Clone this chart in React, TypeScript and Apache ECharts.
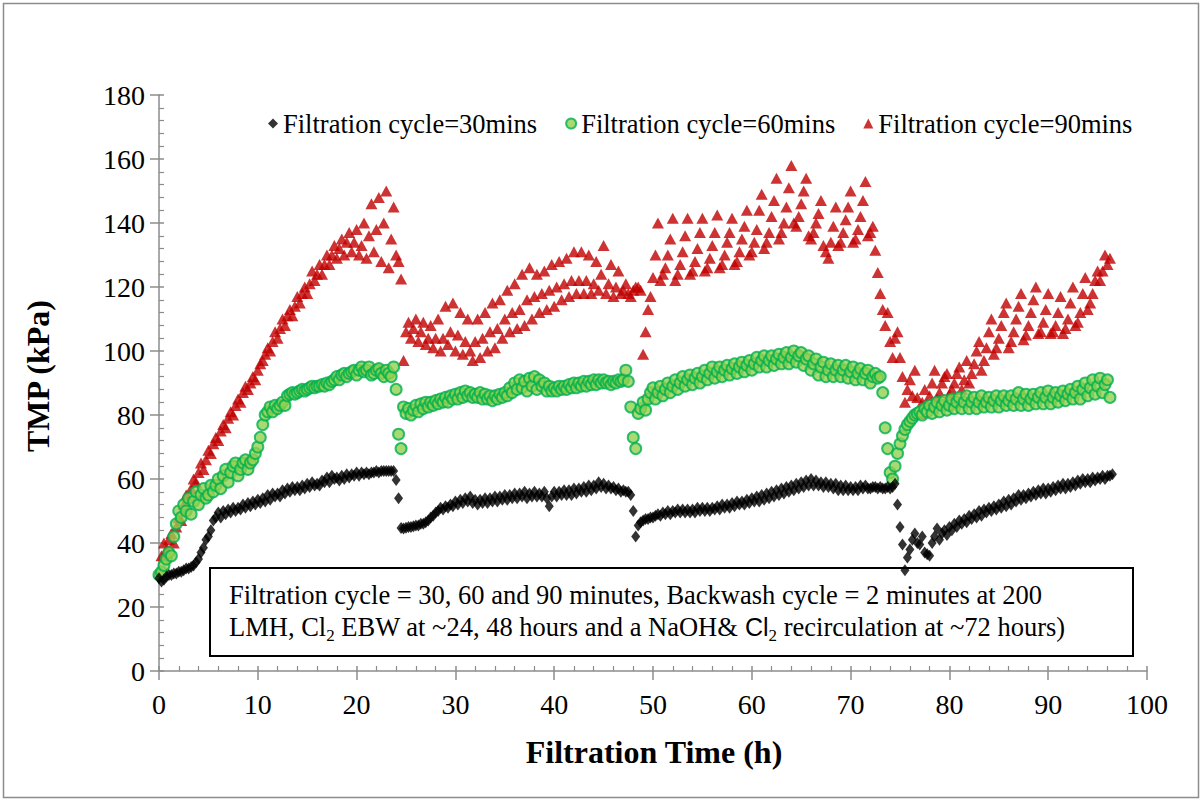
import React, { useEffect, useRef } from "react";
import * as echarts from "echarts";

// Sampling interval of the logged TMP data (hours)
const SAMPLE_STEP_H = 0.25;

const SERIES_NAMES = [
  "Filtration cycle=30mins",
  "Filtration cycle=60mins",
  "Filtration cycle=90mins",
];

// TMP (kPa), one value every 0.25 h starting at t = 0 (each row = 2 h)
const tmp30 = [
  29, 28, 28.5, 29.5, 30, 30, 30.5, 30.5,
  31, 31, 31.5, 32, 32, 32.5, 33, 34,
  35, 37, 38.5, 41, 42, 44, 47, 48,
  49.5, 48, 50, 49, 50.5, 49.5, 51, 50,
  51, 50.5, 52, 51, 52.5, 51.5, 53, 52,
  53.5, 52.5, 54, 53, 55, 53.5, 55.5, 54.5,
  55.5, 54.5, 56.5, 55.5, 57, 56, 57.5, 56.5,
  57.5, 56.5, 58, 57, 58.5, 57.5, 59, 58,
  58.5, 58, 59.5, 59, 60.5, 59, 61, 60,
  60.5, 59.5, 61, 60, 61.5, 60.5, 61.5, 61,
  62, 61, 62, 61.5, 62, 61.5, 62, 62,
  62.5, 62, 62.5, 62.5, 62.5, 62.5, 62.5, 62.5,
  59.7, 54, 44.7, 44.5, 44.8, 45, 45, 45.2,
  45.5, 45.5, 46, 46, 46.5, 47, 48, 48.5,
  49.5, 50, 51, 50.5, 51.5, 51, 52, 51.5,
  53, 52, 53.5, 52.5, 54, 53, 54.5, 52.5,
  53.5, 52, 53.5, 52.5, 54, 52.5, 54, 53,
  54.5, 53, 54.5, 53.5, 55, 53.5, 55, 54,
  55.5, 54, 55.5, 54.5, 56, 54, 55.5, 54.5,
  56, 54.5, 55.5, 54.5, 56, 54, 51.5, 54.5,
  56, 54.5, 56, 55, 56.5, 55, 56.5, 55,
  57, 55.5, 57, 56, 57.5, 56, 58, 56.5,
  58, 57, 59, 57.5, 58.5, 57, 58, 57,
  57.5, 56.5, 57, 56, 56.5, 56, 56, 55,
  50, 42, 45.5, 46.5, 47, 47.5, 47.5, 48,
  48, 48.5, 49, 48.5, 49.5, 49, 50, 49,
  50, 49.5, 50.5, 49.5, 50.5, 49.5, 50.5, 49.5,
  50.5, 49.5, 51, 50, 51, 50, 51, 50,
  51, 50.5, 51.5, 50.5, 52, 51, 52, 51,
  52.5, 51.5, 53, 52, 53, 52, 53.5, 52.5,
  54, 53, 54.5, 53, 55, 53.5, 55.5, 54,
  56, 54.5, 56.5, 55, 57, 55.5, 57.5, 56,
  58, 56.5, 58.5, 57, 59, 57.5, 59.5, 58,
  60, 58, 59.5, 58, 59, 57.5, 59, 57.5,
  58.5, 57, 58.5, 56.5, 58, 56.5, 58, 56.5,
  57.5, 56.5, 57.5, 56.5, 58, 57, 58, 57,
  57, 57.5, 57.5, 57, 57.5, 57, 57, 57.5,
  57, 57.5, 58.5, 52, 45, 39.5, 31.5, 35.5,
  38, 41, 43, 40, 39.5, 42, 37, 36.5,
  36, 40, 42, 44.5, 41, 43, 44, 42.5,
  45, 44, 46, 45, 47, 46, 47.5, 46.5,
  48.5, 47.5, 49, 48, 50, 48.5, 50.5, 49.5,
  51, 50, 51.5, 50.5, 52, 51, 53, 51.5,
  53.5, 52, 54, 53, 55, 53.5, 55, 54,
  55.5, 54.5, 56, 55, 56.5, 55.5, 57, 55.5,
  57, 56, 57.5, 56.5, 58, 57, 58.5, 57,
  58.5, 57.5, 59, 58, 59.5, 58.5, 60, 59,
  60, 59, 60.5, 59.5, 60.5, 60, 61, 60,
  61, 61, 61.5,
];

const tmp60 = [
  30, 31, 33, 35, 37, 36, 42, 46,
  50, 48, 52, 50, 54, 49, 53, 56,
  52, 55, 57, 54, 55, 58, 56, 58,
  60, 57, 61, 63, 59, 62, 64, 65,
  61, 63, 65, 66, 63, 65, 66, 68,
  70, 73, 77, 80, 81, 82.5, 81, 83,
  82, 83, 84, 83, 86, 86.5, 87, 86.5,
  87, 87.5, 88, 87.5, 88, 88.5, 89, 88.5,
  89, 89, 89.5, 89, 90, 89.5, 90.5, 91,
  92, 91, 92.5, 93, 92, 93, 93.5, 94,
  92.5, 94, 95, 93.5, 94, 95, 92.5, 93,
  94, 94.5, 93, 92, 94, 93, 92, 95,
  88, 74, 69.5, 82.5, 80.5, 82, 80, 81.5,
  83, 81, 83.5, 82, 84, 82.5, 84, 83,
  84.5, 83.5, 85, 84, 85.5, 84, 86, 85,
  86.5, 85, 87, 85.5, 87.5, 86, 87, 85.5,
  86.5, 85.5, 87, 85, 86.5, 85, 86, 84.5,
  86, 85, 86.5, 85.5, 87, 86, 88.5, 87,
  90, 88, 91, 88.5, 90.5, 87.5, 91.5, 89,
  92, 88, 91, 89, 90, 87.5, 89, 87.5,
  88.5, 87.5, 89, 88, 89, 88, 89.5, 88.5,
  90, 88.5, 90, 89, 90.5, 89, 90.5, 89.5,
  91, 89.5, 91, 90, 91, 90, 90.5, 89.5,
  90.5, 90, 91, 90.5, 91, 94, 90.5, 82.5,
  73, 69.5, 80.5, 82, 84, 81.5, 85, 87,
  88.5, 85, 87, 89, 86, 88, 90, 87,
  89, 91, 88, 90, 92, 89, 91, 92.5,
  89.5, 91.5, 93, 90, 92, 94, 91, 93,
  95, 91.5, 93.5, 95, 92, 94, 95.5, 92.5,
  94.5, 96, 93, 95, 96.5, 93.5, 95.5, 97,
  94, 96, 98, 95, 97, 98.5, 95, 97,
  98.5, 95.5, 97.5, 99, 96, 98, 99.5, 96,
  98, 100, 96.5, 98.5, 99.5, 95.5, 97.5, 98.5,
  94, 96, 97.5, 92.5, 95, 96.5, 92, 94,
  96, 92, 94, 95.5, 92, 94, 95.5, 91.5,
  93.5, 95, 91, 93, 94.5, 91, 93, 94,
  90, 92, 93, 91.5, 92, 87, 76, 69.5,
  62, 60, 64, 68, 71, 73.5, 75.5, 77,
  78, 79, 80, 80.5, 81, 80, 82, 81,
  83, 80.5, 82.5, 84, 81, 83, 84.5, 81.5,
  83, 85, 82, 84, 85.5, 82, 84, 86,
  82, 84, 85.5, 82, 84, 86, 82.5, 84,
  85.5, 82.5, 84.5, 86, 82.5, 84.5, 86, 83,
  84.5, 86, 83, 85, 87, 83, 85, 86.5,
  83, 85, 86.5, 83.5, 85.5, 87, 83.5, 85.5,
  87.5, 83.5, 85.5, 87, 84, 86, 87.5, 84.5,
  86.5, 88, 85, 87, 89, 85, 88, 90,
  86, 88.5, 91, 86.5, 89, 91.5, 87, 89.5,
  91, 85.5,
];

const tmp90 = [
  31, 36, 40, 38, 41, 43, 40, 45,
  48, 47, 52, 55, 54, 57, 60, 59,
  62, 65, 63, 66, 69, 68, 71, 73,
  72, 75, 77, 76, 79, 81, 80, 83,
  85, 84, 87, 89, 88, 90, 92, 91,
  94, 96, 97, 99, 101, 100, 103, 106,
  104, 107, 110, 108, 111, 113, 111, 114,
  117, 115, 118, 120, 118, 121, 125, 122,
  124, 127, 124, 127, 130, 127, 130, 133,
  129, 132, 135, 130, 134, 137, 131, 134,
  138, 130, 133, 140, 129, 136, 146, 131,
  138, 148, 128, 140, 150, 126, 135, 145,
  130, 128, 122.5, 97, 106, 109, 104, 107,
  110, 103, 106, 109, 102, 104, 108, 101,
  104, 110, 100, 104, 114, 102, 106, 115,
  100, 105, 112, 99, 103, 110, 100, 97,
  103, 110, 98, 104, 112, 100, 106, 115,
  101, 107, 116, 104, 110, 119, 106, 112,
  121, 107, 113, 124, 108, 116, 126, 110,
  117, 124, 112, 118, 125, 113, 119, 127,
  114, 120, 128, 116, 121, 129, 117, 122,
  131, 118, 122, 131, 118, 122, 130, 118,
  121, 128, 119, 124, 133, 118, 121, 127,
  117, 120, 125, 118, 119, 121, 118, 117,
  119, 120, 120, 119, 99, 106, 113, 117,
  123, 130, 140, 122, 124, 126, 130, 135,
  141.5, 122, 124, 127, 131, 136, 141.5, 124,
  125, 128, 132, 137, 141.5, 125, 126, 129,
  133, 137, 142.5, 126, 127, 130, 134, 137,
  141.5, 127, 128, 131, 135, 139, 144, 130,
  131, 134, 138, 144, 149, 132, 134, 137,
  142, 147, 154, 135, 137, 140, 145, 151,
  158, 140, 139, 142, 146, 150, 154, 136,
  135, 137, 140, 143, 147, 133, 131, 129,
  134, 139, 145, 133, 134, 137, 141, 145,
  150, 134, 135, 138, 142, 147, 153, 136,
  137, 139, 131.5, 124.5, 118, 113, 108, 112,
  103, 98, 104, 106, 98, 92, 84, 88,
  91, 86, 94, 85.5, 80.5, 84, 88, 83.5,
  86, 90, 94, 85, 87, 90, 92, 93,
  86.5, 88, 90, 93, 95, 88, 91, 97,
  90, 93, 96, 100, 103, 94, 97, 101,
  106, 110, 99, 101, 104, 108, 112, 115,
  101, 103, 106, 110, 114, 118, 103.5, 105,
  108, 112, 116, 120, 105.5, 106, 109, 113,
  118, 105.5, 106, 108, 112, 117, 105.5, 107,
  110, 115, 120, 108, 109, 112, 118, 123,
  113, 115, 118, 122, 125, 122, 125, 130,
  127, 129,
];

const X_MIN = 0;
const X_MAX = 100;
const X_INTERVAL = 10;
const Y_MIN = 0;
const Y_MAX = 180;
const Y_INTERVAL = 20;

const X_TITLE = "Filtration Time (h)";
const Y_TITLE = "TMP (kPa)";
const NOTE_LINE1 =
  "Filtration cycle = 30, 60 and 90 minutes, Backwash cycle = 2 minutes at 200";

const SERIF = "'Liberation Serif', 'Times New Roman', serif";
const AXIS_GRAY = "#8c8c8c";

function toPoints(values: number[]) {
  return values.map((v, i) => [i * SAMPLE_STEP_H, v]);
}

export default function App() {
  const ref = useRef<HTMLDivElement>(null);

  useEffect(() => {
    if (!ref.current) return;
    const chart = echarts.init(ref.current, null, { renderer: "svg" });

    const axisLabelStyle = {
      color: "#000",
      fontFamily: SERIF,
      fontSize: 28,
    };

    const makeX = (outer: boolean) => ({
      type: "value",
      min: X_MIN,
      max: X_MAX,
      interval: X_INTERVAL,
      position: "bottom",
      axisLine: {
        show: outer,
        lineStyle: { color: AXIS_GRAY, width: 1.5 },
      },
      axisTick: {
        show: true,
        inside: !outer,
        length: outer ? 9 : 5,
        lineStyle: { color: AXIS_GRAY, width: 1.5 },
      },
      minorTick: {
        show: !outer,
        splitNumber: 5,
        length: 5,
        lineStyle: { color: AXIS_GRAY, width: 1.2 },
      },
      splitLine: { show: false },
      axisLabel: outer
        ? { ...axisLabelStyle, margin: 19 }
        : { show: false },
    });

    const makeY = (outer: boolean) => ({
      type: "value",
      min: Y_MIN,
      max: Y_MAX,
      interval: Y_INTERVAL,
      position: "left",
      axisLine: {
        show: outer,
        lineStyle: { color: AXIS_GRAY, width: 1.5 },
      },
      axisTick: {
        show: true,
        inside: !outer,
        length: outer ? 9 : 5,
        lineStyle: { color: AXIS_GRAY, width: 1.5 },
      },
      minorTick: {
        show: !outer,
        splitNumber: 5,
        length: 5,
        lineStyle: { color: AXIS_GRAY, width: 1.2 },
      },
      splitLine: { show: false },
      axisLabel: outer
        ? { ...axisLabelStyle, margin: 14 }
        : { show: false },
    });

    const option: any = {
      animation: false,
      backgroundColor: "#fff",
      grid: { left: 159, right: 56, top: 95, bottom: 131, containLabel: false },
      xAxis: [makeX(true), makeX(false)],
      yAxis: [makeY(true), makeY(false)],
      legend: {
        top: 105,
        left: 263,
        itemGap: 28,
        itemWidth: 10,
        itemHeight: 10,
        textStyle: { color: "#000", fontFamily: SERIF, fontSize: 26.5 },
        data: SERIES_NAMES,
      },
      series: [
        {
          name: SERIES_NAMES[0],
          type: "scatter",
          xAxisIndex: 0,
          yAxisIndex: 0,
          symbol: "diamond",
          symbolSize: [9, 12],
          itemStyle: { color: "#000" },
          data: toPoints(tmp30),
          z: 4,
        },
        {
          name: SERIES_NAMES[1],
          type: "scatter",
          xAxisIndex: 0,
          yAxisIndex: 0,
          symbol: "circle",
          symbolSize: 11,
          itemStyle: { color: "#92D050", borderColor: "#00B050", borderWidth: 2 },
          data: toPoints(tmp60),
          z: 3,
        },
        {
          name: SERIES_NAMES[2],
          type: "scatter",
          xAxisIndex: 0,
          yAxisIndex: 0,
          symbol: "triangle",
          symbolSize: [12, 11],
          itemStyle: { color: "#C00000" },
          data: toPoints(tmp90),
          z: 2,
        },
      ],
      graphic: [
        {
          type: "rect",
          shape: { x: 3.5, y: 3.5, width: 1195, height: 794 },
          style: { fill: "none", stroke: "#8c8c8c", lineWidth: 1.5 },
          z: 0,
          silent: true,
        },
        {
          type: "rect",
          shape: { x: 210, y: 568, width: 923, height: 88 },
          style: { fill: "#fff", stroke: "#000", lineWidth: 2 },
          z: 1,
          silent: true,
        },
        {
          type: "text",
          x: 229,
          y: 579,
          z: 1,
          style: {
            text:
              NOTE_LINE1 +
              "\nLMH, Cl{sub|2} EBW at ~24, 48 hours and a NaOH& {sans|Cl}{sub|2} recirculation at ~72 hours)",
            fontFamily: SERIF,
            fontSize: 26.5,
            lineHeight: 32,
            fill: "#000",
            rich: {
              sub: {
                fontFamily: SERIF,
                fontSize: 17,
                lineHeight: 16,
                padding: [16, 0, 0, 0],
                fill: "#000",
              },
              sans: {
                fontFamily: "'Liberation Sans', 'DejaVu Sans', sans-serif",
                fontSize: 25,
                lineHeight: 32,
                fill: "#000",
              },
            },
          },
        },
        {
          type: "text",
          x: 654,
          y: 752,
          style: {
            text: X_TITLE,
            fontFamily: SERIF,
            fontSize: 32,
            fontWeight: "bold",
            fill: "#000",
            align: "center",
            verticalAlign: "middle",
          },
        },
        {
          type: "text",
          x: 38,
          y: 376,
          rotation: Math.PI / 2,
          style: {
            text: Y_TITLE,
            fontFamily: SERIF,
            fontSize: 32,
            fontWeight: "bold",
            fill: "#000",
            align: "center",
            verticalAlign: "middle",
          },
        },
      ],
    };

    chart.setOption(option);
    return () => chart.dispose();
  }, []);

  return (
    <div
      ref={ref}
      style={{
        position: "fixed",
        left: 0,
        top: 0,
        width: 1203,
        height: 802,
        background: "#fff",
      }}
    />
  );
}
